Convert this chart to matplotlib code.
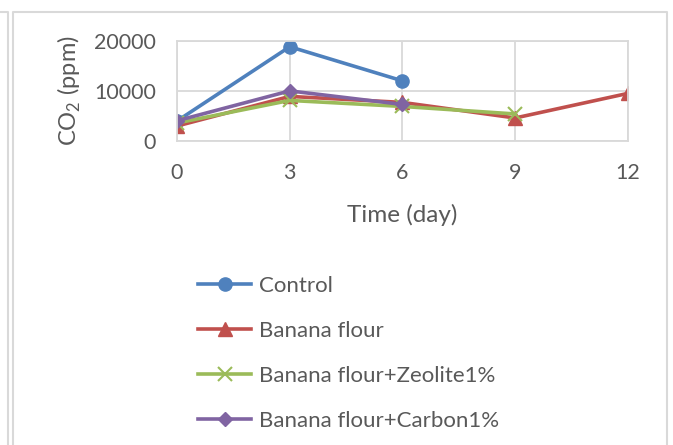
import matplotlib.pyplot as plt
from matplotlib.lines import Line2D

plt.rcParams['font.family'] = ['Lato', 'DejaVu Sans']
plt.rcParams['mathtext.fontset'] = 'custom'
plt.rcParams['mathtext.rm'] = 'Lato'

days_control = [0, 3, 6]
control = [4000, 18800, 12000]
days_flour = [0, 3, 6, 9, 12]
banana_flour = [3000, 8900, 7700, 4600, 9500]
days_zeolite = [0, 3, 6, 9]
zeolite = [3600, 8100, 6900, 5400]
days_carbon = [0, 3, 6]
carbon = [4050, 10000, 7300]

x_ticks = [0, 3, 6, 9, 12]
y_ticks = [0, 10000, 20000]

grey = '#D9D9D9'
text_col = '#595959'
W, H = 673, 445

fig = plt.figure(figsize=(6.73, 4.45), dpi=100)
ax = fig.add_axes([0.263, 0.683, 0.67, 0.2255])

ax.plot(days_control, control, color='#4F81BD', lw=2.6, marker='o', ms=9.5, label='Control')
ax.plot(days_flour, banana_flour, color='#C0504D', lw=2.6, marker='^', ms=10, label='Banana flour')
ax.plot(days_zeolite, zeolite, color='#9BBB59', lw=2.6, marker='x', ms=10, mew=1.5,
        label='Banana flour+Zeolite1%')
ax.plot(days_carbon, carbon, color='#8064A2', lw=2.6, marker='D', ms=7.5, label='Banana flour+Carbon1%')

ax.set_xlim(0, 12)
ax.set_ylim(0, 20000)
ax.set_xticks(x_ticks)
ax.set_yticks(y_ticks)
ax.grid(True, color=grey, lw=1.3)
ax.set_axisbelow(True)
for s in ax.spines.values():
    s.set_color(grey)
    s.set_linewidth(1.3)
ax.tick_params(length=0, labelsize=15.5, labelcolor=text_col)
ax.tick_params(axis='x', pad=16)
ax.tick_params(axis='y', pad=15)

ax.set_xlabel('Time (day)', fontsize=17.5, color=text_col, labelpad=15)
ax.set_ylabel('CO$_2$ (ppm)', fontsize=17, color=text_col, labelpad=8)

leg = fig.legend(loc='upper left', bbox_to_anchor=(198 / W, 1 - 276 / H), frameon=False,
                 fontsize=16, labelcolor=text_col, handlelength=2.4, labelspacing=1.12,
                 handletextpad=0.35, borderpad=0, borderaxespad=0)

# chart border lines
fig.add_artist(Line2D([13 / W, 13 / W, 667 / W, 667 / W],
                      [0, 1 - 12 / H, 1 - 12 / H, 0], color=grey, lw=1.5))
fig.add_artist(Line2D([0, 7.5 / W, 7.5 / W], [1 - 12 / H, 1 - 12 / H, 0],
                      color=grey, lw=1.5))

fig.savefig('out.png', dpi=100)
